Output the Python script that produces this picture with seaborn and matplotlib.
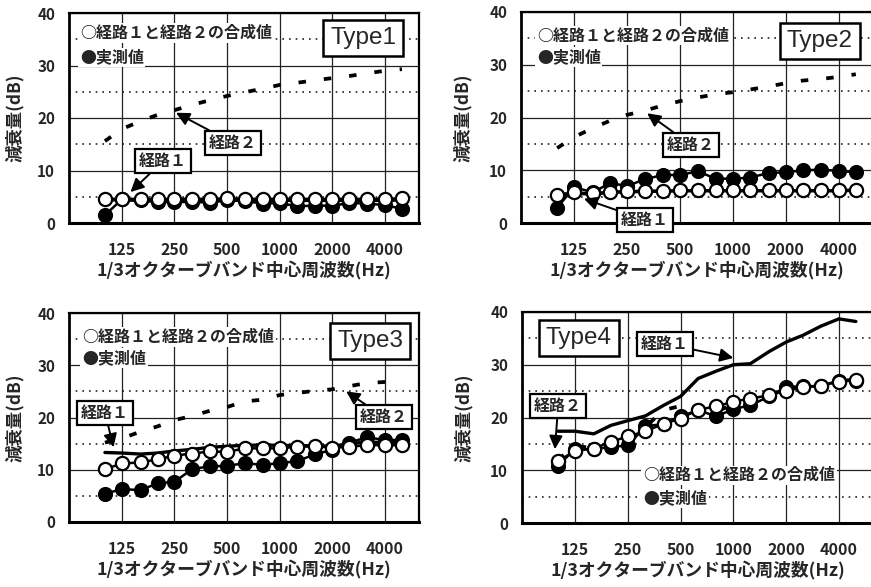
import numpy as np
import pandas as pd
import matplotlib
matplotlib.use("Agg")
import matplotlib.pyplot as plt
import seaborn as sns
from matplotlib.ticker import FixedLocator, NullFormatter, NullLocator

# ---------------- data ----------------
freqs = [100, 125, 160, 200, 250, 315, 400, 500, 630, 800,
         1000, 1250, 1600, 2000, 2500, 3150, 4000, 5000]
tick_freqs = [125, 250, 500, 1000, 2000, 4000]
tick_labels = ["125", "250", "500", "1000", "2000", "4000"]
type_names = ["Type1", "Type2", "Type3", "Type4"]

# 経路1と経路2の合成値 (open circles)
t1_comb = [4.6, 4.6, 4.6, 4.5, 4.6, 4.6, 4.6, 4.7, 4.6, 4.6, 4.6, 4.6, 4.6, 4.6, 4.6, 4.6, 4.6, 4.7]
t2_comb = [5.4, 5.8, 5.6, 5.9, 6.0, 6.1, 6.1, 6.2, 6.2, 6.2, 6.2, 6.2, 6.2, 6.2, 6.2, 6.2, 6.2, 6.3]
t3_comb = [10.1, 11.2, 11.4, 12.0, 12.7, 13.1, 13.5, 13.4, 14.1, 14.1, 14.1, 14.4, 14.5, 14.2, 14.4, 14.7, 14.7, 14.7]
t4_comb = [11.7, 13.7, 14.1, 15.4, 16.4, 17.4, 18.8, 19.8, 21.5, 22.1, 23.0, 23.6, 24.2, 25.1, 25.7, 26.0, 26.8, 27.1]

# 実測値 (filled circles)
t1_meas = [1.5, 4.5, 4.3, 4.0, 4.0, 4.0, 3.9, 4.3, 4.2, 3.7, 3.8, 3.2, 3.3, 3.3, 3.8, 3.7, 3.4, 2.7]
t2_meas = [2.9, 6.8, 5.8, 7.6, 7.0, 8.3, 9.1, 9.1, 9.8, 8.4, 8.4, 8.6, 9.5, 9.6, 10.0, 10.1, 9.9, 9.6]
t3_meas = [5.4, 6.3, 6.1, 7.4, 7.7, 10.1, 10.7, 10.7, 11.3, 10.9, 11.3, 11.6, 13.0, 13.8, 15.2, 16.2, 15.7, 15.7]
t4_meas = [10.9, 14.0, 14.0, 14.4, 14.7, 18.3, 18.8, 20.2, 21.4, 20.2, 21.6, 22.3, 24.0, 25.8, 25.9, 26.0, 27.0, 27.0]

# 経路1 (solid line)
t1_p1 = [4.4, 4.4, 4.3, 4.2, 4.3, 4.3, 4.3, 4.4, 4.4, 4.3, 4.3, 4.3, 4.3, 4.3, 4.3, 4.3, 4.3, 4.4]
t2_p1 = [5.2, 5.6, 5.5, 5.8, 5.9, 6.0, 6.0, 6.1, 6.1, 6.1, 6.1, 6.1, 6.1, 6.1, 6.1, 6.1, 6.1, 6.2]
t3_p1 = [13.3, 13.2, 13.0, 13.2, 13.6, 13.9, 14.3, 14.5, 14.7, 14.7, 14.7, 14.6, 14.6, 14.5, 15.0, 15.3, 15.2, 15.2]
t4_p1 = [17.4, 17.4, 16.9, 18.5, 19.4, 20.3, 22.3, 24.0, 27.4, 28.8, 30.0, 30.2, 32.5, 34.3, 35.6, 37.3, 38.7, 38.2]

# 経路2 (dashed line)
t1_p2 = [15.6, 17.9, 19.4, 20.6, 21.5, 22.5, 23.4, 24.2, 24.9, 25.6, 26.3, 26.7, 27.2, 27.6, 28.0, 28.5, 29.0, 29.3]
t2_p2 = [14.2, 16.3, 18.0, 19.4, 20.5, 21.3, 22.3, 23.1, 23.8, 24.4, 24.8, 25.3, 25.9, 26.5, 27.0, 27.3, 27.7, 28.2]
t3_p2 = [15.2, 16.0, 17.3, 18.3, 19.5, 20.3, 21.3, 22.0, 23.1, 23.4, 24.3, 24.7, 25.1, 25.4, 26.0, 26.6, 26.8, 27.1]
t4_p2 = [12.0, 14.6, 14.2, 15.3, 16.3, 18.2, 21.4, 22.2, 21.6, 21.2, 22.4, 23.2, 24.3, 25.5, 25.8, 26.1, 27.0, 27.1]

legend_comb = "○経路１と経路２の合成値"
legend_meas = "●実測値"
label_p1 = "経路１"
label_p2 = "経路２"
ylabel = "減衰量(dB)"
xlabel = "1/3オクターブバンド中心周波数(Hz)"

# ---------------- style ----------------
sns.set_style("white")
plt.rcParams["font.family"] = ["Noto Sans CJK JP", "DejaVu Sans"]

W, H = 871, 587
fig = plt.figure(figsize=(W / 100, H / 100), dpi=100)
fig.patch.set_facecolor("white")


def add_ax(l, r, t, b):
    return fig.add_axes([l / W, 1 - b / H, (r - l) / W, (b - t) / H])


panels = [
    dict(rect=(69, 419, 13, 223), comb=t1_comb, meas=t1_meas, p1=t1_p1, p2=t1_p2,
         type_pos=(0.84, 0.88), leg=(0.031, 0.905, 0.79), ylab_x=-0.13,
         ann=[(label_p2, (255, 21.0), (0.469, 0.381)),
              (label_p1, (140, 5.9), (0.269, 0.295))]),
    dict(rect=(521, 873, 12, 223), comb=t2_comb, meas=t2_meas, p1=t2_p1, p2=t2_p2,
         type_pos=(0.849, 0.863), leg=(0.045, 0.89, 0.787), ylab_x=-0.14,
         ann=[(label_p2, (325, 20.8), (0.483, 0.37)),
              (label_p1, (142, 4.6), (0.352, 0.014))]),
    dict(rect=(69, 419, 313, 522), comb=t3_comb, meas=t3_meas, p1=t3_p1, p2=t3_p2,
         type_pos=(0.86, 0.866), leg=(0.037, 0.885, 0.785), ylab_x=-0.13,
         ann=[(label_p1, (112, 14.3), (0.103, 0.522)),
              (label_p2, (2400, 25.0), (0.90, 0.502))]),
    dict(rect=(522, 873, 312, 523), comb=t4_comb, meas=t4_meas, p1=t4_p1, p2=t4_p2,
         type_pos=(0.162, 0.877), leg=(0.345, 0.227, 0.118), ylab_x=-0.14,
         ann=[(label_p1, (1000, 31.3), (0.407, 0.85)),
              (label_p2, (96, 14.0), (0.103, 0.555))]),
]

for name, p in zip(type_names, panels):
    ax = add_ax(*p["rect"])
    ax.set_xscale("log")
    df = pd.DataFrame({"freq": freqs, "comb": p["comb"], "meas": p["meas"],
                       "p1": p["p1"], "p2": p["p2"]})

    sns.lineplot(data=df, x="freq", y="p1", ax=ax, color="black", lw=2.4, zorder=3)
    sns.lineplot(data=df, x="freq", y="p2", ax=ax, color="black", lw=2.7,
                 linestyle=(0, (2.0, 4.8)), zorder=3)
    sns.lineplot(data=df, x="freq", y="meas", ax=ax, color="black", lw=1.8,
                 marker="o", markersize=9.5, markerfacecolor="black",
                 markeredgecolor="black", markeredgewidth=1.4, zorder=4)
    sns.lineplot(data=df, x="freq", y="comb", ax=ax, color="black", lw=1.8,
                 marker="o", markersize=9.5, markerfacecolor="white",
                 markeredgecolor="black", markeredgewidth=1.6, zorder=5)

    ax.set_xlim(62.3, 6260)
    ax.set_ylim(0, 40)
    ax.xaxis.set_major_locator(FixedLocator(tick_freqs))
    ax.set_xticklabels(tick_labels)
    ax.xaxis.set_minor_locator(NullLocator())
    ax.xaxis.set_minor_formatter(NullFormatter())
    ax.set_yticks([0, 10, 20, 30, 40])
    ax.set_yticks([5, 15, 25, 35], minor=True)
    ax.tick_params(axis="both", which="both", length=0)
    ax.tick_params(axis="y", pad=10, labelsize=11)
    ax.tick_params(axis="x", pad=14, labelsize=11.5)
    for lab in ax.get_xticklabels() + ax.get_yticklabels():
        lab.set_fontweight("bold")

    ax.grid(True, which="major", axis="both", color="#222222", lw=0.9, ls="-")
    ax.grid(True, which="minor", axis="y", color="#222222", lw=1.2, ls=(0, (1, 3)))
    ax.set_axisbelow(True)
    for s in ax.spines.values():
        s.set_visible(True)
        s.set_color("black")
        s.set_linewidth(1.6)
    ax.spines["bottom"].set_linewidth(2.2)
    ax.spines["left"].set_linewidth(2.0)

    ax.set_xlabel(xlabel, fontsize=12.8, fontweight="bold")
    ax.set_ylabel(ylabel, fontsize=12.5, fontweight="bold")
    ax.xaxis.set_label_coords(0.5, -0.18)
    ax.yaxis.set_label_coords(p["ylab_x"], 0.5)

    # Type box
    tx, ty = p["type_pos"]
    ax.text(tx, ty, name, transform=ax.transAxes, ha="center", va="center",
            fontsize=17.5, family=["Liberation Sans", "DejaVu Sans"], zorder=8,
            bbox=dict(boxstyle="square,pad=0.3", fc="white", ec="black", lw=1.8))

    # legend text
    lx, ly1, ly2 = p["leg"]
    for yy, txt in ((ly1, legend_comb), (ly2, legend_meas)):
        ax.text(lx, yy, txt, transform=ax.transAxes, ha="left", va="center",
                fontsize=11.5, fontweight="bold", zorder=6,
                bbox=dict(boxstyle="square,pad=0.1", fc="white", ec="none"))

    # path annotations
    for txt, tip, pos in p["ann"]:
        ax.annotate(txt, xy=tip, xycoords="data", xytext=pos, textcoords="axes fraction",
                    ha="center", va="center", fontsize=11.5, fontweight="bold",
                    annotation_clip=False, zorder=9,
                    bbox=dict(boxstyle="square,pad=0.25", fc="white", ec="black", lw=1.6),
                    arrowprops=dict(arrowstyle="-|>", color="black", lw=1.4,
                                    mutation_scale=20, shrinkA=0, shrinkB=0))

fig.savefig("out.png", dpi=100, facecolor="white")
